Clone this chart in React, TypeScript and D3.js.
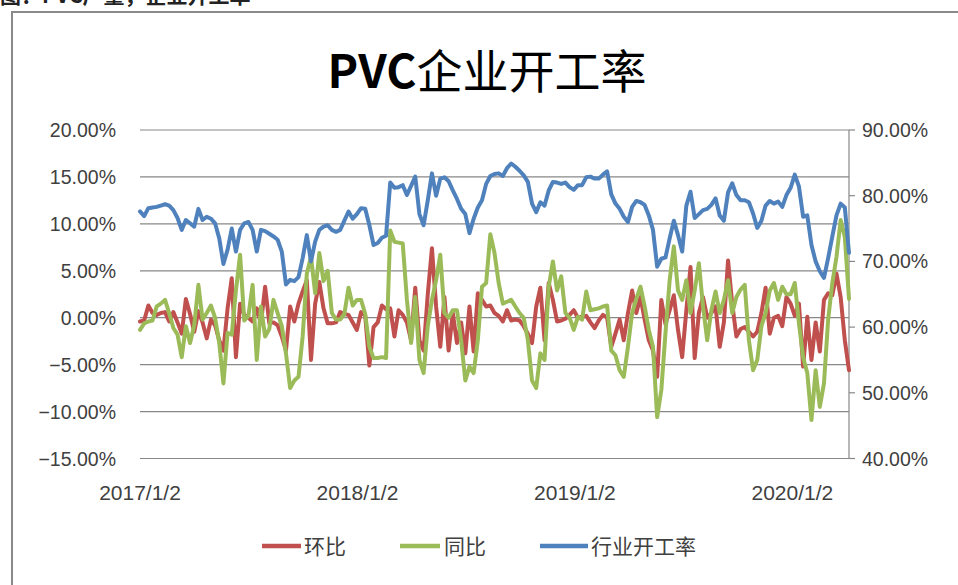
import React from "react";
import * as d3 from "d3";

// weekly data, first week 2017/1/2
const startDate = new Date(2017, 0, 2);

// 环比 (%)
const huanbi = [
  -0.4, -0.3, 1.3, 0.5, 0.3, 0.5, 0.6, -0.4, 0.6, -0.5,
  -1.7, 2.0, 0.4, -1.5, 0.7, -0.5, -2.2, -0.2, -0.8, -2.4,
  -3.5, 1.0, 4.2, -4.2, 1.5, 0.3, 0.0, -0.4, 1.0, -0.6,
  3.3, -0.6, -0.5, -0.8, -2.0, -3.5, 1.2, -0.4, 1.5, 2.8,
  4.0, -4.5, 1.5, 3.8, 1.0, -0.6, -0.6, -0.5, 0.6, 0.4,
  0.3, -0.5, -1.3, 0.6, 0.2, -5.1, -1.0, -0.5, 1.3, 0.9,
  1.0, -2.0, 0.8, 0.3, -0.5, -2.4, 3.2, -2.4, -3.5, 2.5,
  7.4, 1.2, -3.1, 2.2, -3.5, 0.5, -2.7, -0.5, -3.8, 1.2,
  -3.6, 2.6, 1.9, 1.2, 1.3, 0.5, 0.2, -0.4, 0.8, -0.3,
  -0.2, -0.3, -0.9, -1.7, -2.7, 1.2, 3.2, -2.4, 3.7, 1.9,
  -0.4, -0.3, -0.1, 0.3, 0.8, 0.0, 0.1, 0.2, -0.5, -1.1,
  -0.3, 0.3, 0.0, -3.1, -1.7, -0.2, -2.4, 0.5, 2.9, 0.5,
  2.2, -0.2, -2.4, -3.5, -6.3, 1.9, -0.7, 0.8, 2.4, -1.3,
  -4.2, 0.8, 5.4, -4.3, 0.5, 2.2, 0.0, 0.5, 1.2, -3.1,
  -0.5, 6.1, 1.5, -2.0, -1.2, -1.0, -1.5, -2.0, -1.5, 0.5,
  3.2, -1.7, 0.0, 0.2, -0.9, 2.2, 1.5, 0.2, 1.5, -5.2,
  0.1, -4.5, -0.5, -3.6, 1.9, 2.6, 2.4, 4.7, 2.2, -2.4,
  -5.6,
];

// 同比 (%)
const tongbi = [
  -1.3, -0.6, -0.4, -0.3, 1.2, 1.5, 1.9, 0.5, -1.1, -1.8,
  -4.2, -0.9, -2.7, -0.8, 3.5, -0.2, 0.5, 1.3, 0.0, -2.7,
  -7.0, -1.6, -1.8, 2.9, 6.7, -0.3, 0.2, 3.5, -4.5, 1.2,
  -2.0, -1.2, 1.9, 0.5, -0.9, -3.8, -7.5, -6.7, -6.3, -2.0,
  4.7, 6.5, 2.6, 6.9, 3.9, 5.0, 0.5, -0.2, -0.2, 0.4,
  3.2, 1.3, 1.9, 1.9, 0.4, -3.1, -4.3, -4.3, -4.2, -4.3,
  9.3, 8.1, 8.0, 7.9, 1.9, -2.7, 2.2, -4.5, -5.9, -0.9,
  1.9, 4.0, 6.7, 0.5, 0.0, 0.8, 0.8, -2.4, -6.7, -5.2,
  -5.9, -2.4, 3.3, 3.7, 8.9, 6.9, 3.7, 1.5, 1.7, 1.9,
  1.2, 0.5, 0.0, -2.4, -6.7, -7.5, -3.8, -4.5, 3.3, 6.0,
  2.9, 4.4, 0.5, 0.0, -1.3, 0.1, -0.2, 2.8, 0.8, 0.9,
  1.0, 1.2, 1.3, -3.5, -4.0, -5.6, -6.3, -3.1, 0.5, 2.0,
  3.3, 1.2, -1.3, -3.1, -10.6, -7.7, -1.6, 4.0, 7.6, 2.9,
  1.9, 4.0, 0.5, 2.9, 5.8, 1.2, -2.4, 0.8, 2.8, 0.5,
  1.9, 4.0, 0.5, 2.2, 3.0, 3.5, -2.4, -5.6, -4.5, -0.9,
  0.5, 2.9, 3.7, 1.9, 3.3, 2.5, 2.5, 3.7, -0.6, -4.2,
  -5.9, -10.9, -5.6, -9.5, -7.0, -0.2, 3.7, 6.5, 10.4, 8.6,
  2.0,
];

// 行业开工率 (%), right axis
const kaigonglv = [
  77.6, 76.9, 78.1, 78.2, 78.3, 78.5, 78.7, 78.5, 77.8, 76.6,
  74.8, 76.3, 75.8, 75.3, 78.0, 76.3, 76.8, 76.5, 75.8, 73.5,
  69.6, 71.8, 75.0, 71.5, 74.8, 75.8, 76.0, 74.8, 71.5, 74.8,
  74.6, 74.2, 73.8, 73.3, 71.5, 66.5, 67.2, 67.0, 67.6, 70.5,
  74.0, 70.0, 73.0, 74.8, 75.3, 75.5, 74.8, 74.5, 74.8, 76.2,
  77.6, 76.5, 77.2, 78.1, 78.0, 75.5, 72.5, 72.8, 73.6, 73.9,
  82.0, 81.2, 81.3, 81.6, 80.1, 81.5, 82.9, 77.2, 75.5, 79.3,
  83.4, 80.0, 82.6, 82.8, 82.2, 80.8, 79.5, 78.0, 77.2, 74.3,
  76.5, 78.2, 79.3, 81.8, 83.0, 83.3, 83.4, 83.0, 84.2, 84.9,
  84.4, 83.8, 83.1, 82.1, 78.8, 77.5, 79.0, 78.5, 80.8, 82.1,
  82.0, 81.8, 82.0, 81.3, 80.9, 81.6, 81.6, 82.8, 82.9, 82.6,
  82.6, 83.2, 83.7, 80.2, 78.8, 78.0, 76.8, 76.0, 78.3, 79.2,
  79.0, 78.6, 77.0, 74.8, 69.2, 70.4, 70.6, 73.5, 76.2, 74.0,
  71.5, 78.5, 80.6, 76.6, 77.2, 77.8, 78.0, 78.6, 79.6, 77.0,
  76.2, 80.5, 81.9, 80.1, 79.3, 79.3, 79.0, 77.3, 75.1, 76.2,
  78.5, 79.2, 78.8, 79.1, 78.3, 80.1, 81.2, 83.2, 81.4, 76.8,
  77.0, 72.5, 70.0, 68.5, 67.5, 70.5, 73.8, 77.0, 78.8, 78.2,
  71.3,
];

const dates = huanbi.map((_, i) => d3.timeDay.offset(startDate, i * 7));

const leftTicks = [20, 15, 10, 5, 0, -5, -10, -15];
const rightTicks = [90, 80, 70, 60, 50, 40];
const xTicks = ["2017/1/2", "2018/1/2", "2019/1/2", "2020/1/2"];

const series = [
  { name: "环比", data: huanbi, color: "#C0504D", axis: "left" },
  { name: "同比", data: tongbi, color: "#9BBB59", axis: "left" },
  { name: "行业开工率", data: kaigonglv, color: "#4F81BD", axis: "right" },
];

const numFont = "'Liberation Sans', Arial, sans-serif";
const cjkFont = "'Noto Sans CJK SC', 'Noto Sans', sans-serif";

export default function App() {
  const left = 140;
  const right = 849;
  const top = 130;
  const bottom = 458.5;

  const parse = d3.timeParse("%Y/%m/%d");

  const x = d3
    .scaleTime()
    .domain([dates[0], dates[dates.length - 1]])
    .range([left, right]);
  const yL = d3.scaleLinear().domain([-15, 20]).range([bottom, top]);
  const yR = d3.scaleLinear().domain([40, 90]).range([bottom, top]);

  const lineFor = (scale: d3.ScaleLinear<number, number>) =>
    d3
      .line<number>()
      .x((_, i) => x(dates[i]))
      .y((d) => scale(d));

  const legendPos = [
    { x1: 262, x2: 301, tx: 304 },
    { x1: 400, x2: 440, tx: 444 },
    { x1: 540, x2: 588, tx: 591 },
  ];

  return (
    <svg
      width={958}
      height={585}
      style={{ position: "absolute", left: 0, top: 0, background: "#fff" }}
    >
      <rect width={958} height={585} fill="#fff" />
      {/* caption above the frame, cut by the top edge as in the source picture */}
      <text x={0} y={3} fontFamily={cjkFont} fontSize={21} fontWeight="bold" fill="#222">
        图：PVC产量，企业开工率
      </text>
      <rect x={12} y={12} width={960} height={600} fill="#fff" stroke="#8a8a8a" strokeWidth={2} />

      <text x={487} y={88} textAnchor="middle" fontFamily={cjkFont} fontSize={46} fill="#000">
        <tspan fontWeight="bold">PVC</tspan>
        <tspan>企业开工率</tspan>
      </text>

      {/* gridlines + left labels */}
      {leftTicks.map((t) => (
        <g key={"l" + t}>
          <line x1={left} x2={right} y1={yL(t)} y2={yL(t)} stroke="#888" strokeWidth={1.2} />
          <text
            x={116}
            y={yL(t)}
            dy="0.36em"
            textAnchor="end"
            fontFamily={numFont}
            fontSize={19.5}
            fill="#404040"
          >
            {d3.format(".2f")(t) + "%"}
          </text>
        </g>
      ))}

      {/* right axis */}
      <line x1={right} x2={right} y1={top} y2={bottom} stroke="#888" strokeWidth={1.2} />
      {rightTicks.map((t) => (
        <g key={"r" + t}>
          <line x1={right} x2={right + 6} y1={yR(t)} y2={yR(t)} stroke="#888" strokeWidth={1.2} />
          <text
            x={862}
            y={yR(t)}
            dy="0.36em"
            textAnchor="start"
            fontFamily={numFont}
            fontSize={19.5}
            fill="#404040"
          >
            {d3.format(".2f")(t) + "%"}
          </text>
        </g>
      ))}

      {/* x labels */}
      {xTicks.map((t) => (
        <text
          key={t}
          x={x(parse(t) as Date)}
          y={500}
          textAnchor="middle"
          fontFamily={numFont}
          fontSize={21}
          fill="#404040"
        >
          {t}
        </text>
      ))}

      {/* series */}
      {series.map((s) => (
        <path
          key={s.name}
          d={lineFor(s.axis === "left" ? yL : yR)(s.data) || ""}
          fill="none"
          stroke={s.color}
          strokeWidth={4}
          strokeLinejoin="round"
          strokeLinecap="round"
        />
      ))}

      {/* legend */}
      {series.map((s, i) => (
        <g key={"lg" + s.name}>
          <line
            x1={legendPos[i].x1}
            x2={legendPos[i].x2}
            y1={546}
            y2={546}
            stroke={s.color}
            strokeWidth={4.5}
          />
          <text
            x={legendPos[i].tx}
            y={554}
            fontFamily={cjkFont}
            fontSize={21}
            fill="#404040"
          >
            {s.name}
          </text>
        </g>
      ))}
    </svg>
  );
}
